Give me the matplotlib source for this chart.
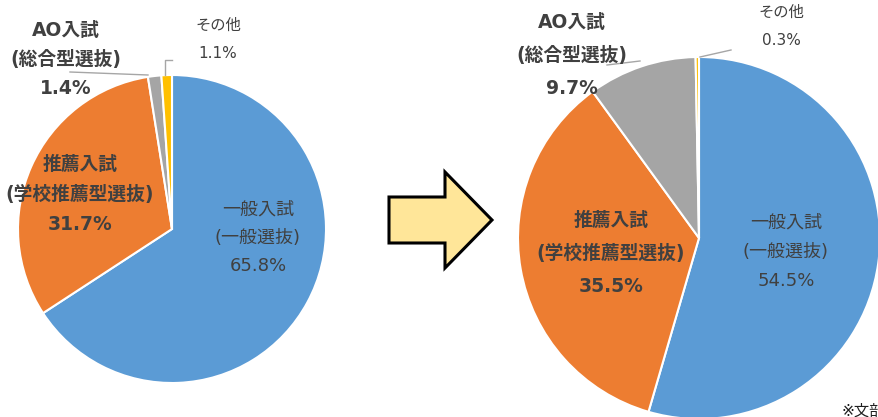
import matplotlib
matplotlib.use("Agg")
import matplotlib.pyplot as plt
from matplotlib.patches import FancyArrow

# DejaVu for the wide latin digits, Noto CJK for the Japanese glyphs
plt.rcParams['font.family'] = ['DejaVu Sans', 'Noto Sans CJK JP']

W, H = 879, 417

# data
categories = ["一般入試\n(一般選抜)", "推薦入試\n(学校推薦型選抜)", "AO入試\n(総合型選抜)", "その他"]
before = [65.8, 31.7, 1.4, 1.1]
after = [54.5, 35.5, 9.7, 0.3]
colors = ["#5B9BD5", "#ED7D31", "#A5A5A5", "#FFC000"]

TXT = "#404040"


def py(y):
    # pixel y (from top) -> data y
    return H - y


fig = plt.figure(figsize=(W / 100, H / 100), dpi=100)
ax = fig.add_axes([0, 0, 1, 1])


def draw_pie(vals, cx, cy, r):
    ax.pie(vals, colors=colors, startangle=90, counterclock=False,
           center=(cx, py(cy)), radius=r,
           wedgeprops=dict(edgecolor="white", linewidth=1.5))


draw_pie(before, 172, 229, 154)
draw_pie(after, 699, 238, 181)


def label(x, y, lines, bold=False, size=13.5, gap=29):
    for i, s in enumerate(lines):
        ax.text(x, py(y + i * gap), s, ha="center", va="center", fontsize=size,
                color=TXT, fontweight="bold" if bold else "normal")


def pct(v):
    return f"{v}%"


# left pie labels
label(258, 210, categories[0].split("\n") + [pct(before[0])], size=13, gap=28)
label(80, 164, categories[1].split("\n") + [pct(before[1])], bold=True, gap=30)
label(66, 30, categories[2].split("\n") + [pct(before[2])], bold=True, gap=29)
label(218, 25, [categories[3], pct(before[3])], size=11, gap=28)

# right pie labels
label(786, 223, categories[0].split("\n") + [pct(after[0])], size=13, gap=29)
label(611, 220, categories[1].split("\n") + [pct(after[1])], bold=True, gap=33)
label(572, 22, categories[2].split("\n") + [pct(after[2])], bold=True, gap=33)
label(781, 12, [categories[3], pct(after[3])], size=11, gap=28)

# leader lines
lc = "#A6A6A6"
ax.plot([70, 148], [py(72), py(75)], color=lc, lw=1)
ax.plot([172, 165, 165], [py(60), py(60), py(75)], color=lc, lw=1)
ax.plot([607, 640], [py(65), py(61)], color=lc, lw=1)
ax.plot([700, 731], [py(57), py(50)], color=lc, lw=1)

# arrow between pies
ax.add_patch(FancyArrow(389, py(220), 103, 0, width=46, head_width=96,
                        head_length=47, length_includes_head=True,
                        facecolor="#FFE699", edgecolor="black", linewidth=2.2))

# footnote, cut by the right edge as in the source
ax.text(842, py(411), "※文部科学省", fontsize=11, color="#202020",
        ha="left", va="center")

ax.set_xlim(0, W)
ax.set_ylim(0, H)
ax.set_aspect("auto")
ax.axis("off")

fig.savefig("out.png", dpi=100, facecolor="white")
